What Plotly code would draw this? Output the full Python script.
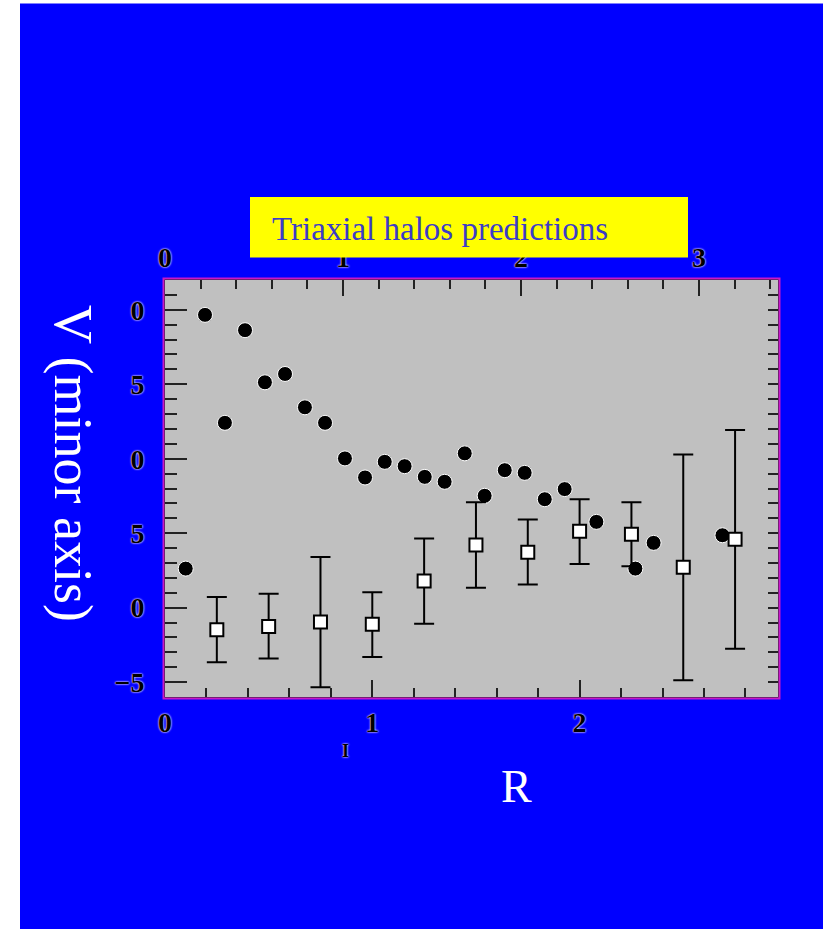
import plotly.graph_objects as go

# ---------------- data ----------------
circle_R = [0.10, 0.193, 0.289, 0.386, 0.482, 0.579, 0.675, 0.772, 0.868, 0.965,
            1.060, 1.156, 1.253, 1.349, 1.446, 1.542, 1.639, 1.735, 1.832, 1.928,
            2.081, 2.269, 2.357, 2.689]
circle_V = [2.62, 19.66, 12.41, 18.63, 15.13, 15.69, 13.45, 12.41, 10.02, 8.74,
            9.79, 9.50, 8.78, 8.45, 10.36, 7.51, 9.23, 9.05, 7.28, 7.96,
            5.76, 2.62, 4.35, 4.86]

square_R = [0.25, 0.50, 0.75, 1.00, 1.25, 1.50, 1.75, 2.00, 2.25, 2.50, 2.75]
square_V = [-1.48, -1.26, -0.97, -1.12, 1.79, 4.21, 3.72, 5.13, 4.93, 2.71, 4.59]
square_hi = [0.71, 0.94, 3.40, 1.03, 4.64, 7.08, 5.92, 7.28, 7.08, 10.29, 11.92]
square_lo = [-3.66, -3.41, -5.34, -3.32, -1.08, 1.34, 1.55, 2.93, 2.78, -4.87, -2.76]

x_tickvals = [0, 1, 2]
x_ticktext = ["0", "1", "2"]
top_tickvals = [0, 1, 2, 3]
top_ticktext = ["0", "1", "2", "3"]
y_tickvals = [20, 15, 10, 5, 0, -5]
y_ticktext = ["0", "5", "0", "5", "0", "\u22125"]

title_text = "Triaxial halos predictions"
ylabel_text = "V (minor axis)"
xlabel_text = "R"

# ---------------- layout geometry (pixels) ----------------
W, H = 823, 929
L, R_, T, B = 165, 45, 280, 232
PW, PH = W - L - R_, H - T - B


def px(x):
    return (x - L) / PW


def py(y):
    return (H - B - y) / PH


tick_font = dict(family="Liberation Serif", size=28, color="black", weight="bold",
                 shadow="0 0 2px white, 0 0 2px #f0c0f0")

plus = [h - v for h, v in zip(square_hi, square_V)]
minus = [v - l for v, l in zip(square_V, square_lo)]

fig = go.Figure()

fig.add_trace(go.Scatter(
    x=circle_R, y=circle_V, mode="markers",
    marker=dict(symbol="circle", size=15, color="black",
                line=dict(color="white", width=1)),
    showlegend=False, cliponaxis=False,
))

fig.add_trace(go.Scatter(
    x=square_R, y=square_V, mode="markers",
    marker=dict(symbol="square", size=13, color="white",
                line=dict(color="black", width=2)),
    error_y=dict(type="data", symmetric=False, array=plus, arrayminus=minus,
                 color="black", thickness=2, width=10),
    showlegend=False, cliponaxis=False,
))

x_max = PW / 207.3
top_max = PW / 178.0

fig.update_layout(
    width=W, height=H,
    margin=dict(l=L, r=R_, t=T, b=B, pad=0),
    paper_bgcolor="white",
    plot_bgcolor="rgba(0,0,0,0)",
    showlegend=False,
    xaxis=dict(range=[0, x_max], showgrid=False, zeroline=False,
               showline=True, linecolor="#222", linewidth=1,
               tickmode="array", tickvals=x_tickvals, ticktext=x_ticktext,
               ticks="inside", ticklen=17, tickwidth=2, tickcolor="#222",
               minor=dict(dtick=0.2, tick0=0, ticks="inside", ticklen=9,
                          tickwidth=2, tickcolor="#222"),
               tickfont=tick_font, ticklabelstandoff=0),
    xaxis2=dict(range=[0, top_max], overlaying="x", side="top",
                showgrid=False, zeroline=False, showline=True,
                linecolor="#222", linewidth=1,
                tickmode="array", tickvals=top_tickvals, ticktext=top_ticktext,
                ticks="inside", ticklen=16, tickwidth=2, tickcolor="#222",
                minor=dict(dtick=0.2, tick0=0, ticks="inside", ticklen=9,
                           tickwidth=2, tickcolor="#222"),
                tickfont=tick_font, ticklabelstandoff=1),
    yaxis=dict(range=[-6, 22], showgrid=False, zeroline=False,
               showline=True, linecolor="#222", linewidth=1,
               tickmode="array", tickvals=y_tickvals, ticktext=y_ticktext,
               ticks="inside", ticklen=22, tickwidth=2, tickcolor="#222",
               minor=dict(dtick=1, tick0=0, ticks="inside", ticklen=12,
                          tickwidth=2, tickcolor="#222"),
               tickfont=tick_font, ticklabelstandoff=14),
    yaxis2=dict(range=[-6, 22], overlaying="y", side="right",
                showgrid=False, zeroline=False, showline=True,
                linecolor="#222", linewidth=1,
                tickmode="array", tickvals=y_tickvals, ticktext=["" for _ in y_tickvals],
                ticks="inside", ticklen=20, tickwidth=2, tickcolor="#222",
                minor=dict(dtick=1, tick0=0, ticks="inside", ticklen=10,
                           tickwidth=2, tickcolor="#222"),
                showticklabels=False),
)

# dummy trace to activate the secondary axes
fig.add_trace(go.Scatter(x=[None], y=[None], xaxis="x2", yaxis="y2",
                         showlegend=False, hoverinfo="skip"))

shapes = [
    # blue slide background
    dict(type="rect", xref="paper", yref="paper", layer="below",
         x0=px(20), x1=px(W + 5), y0=py(H + 5), y1=py(3.5),
         fillcolor="#0000ff", line=dict(width=0)),
    # grey plot area
    dict(type="rect", xref="paper", yref="paper", layer="below",
         x0=0, x1=1, y0=0, y1=1, fillcolor="#c0c0c0", line=dict(width=0)),
    # magenta frame
    dict(type="rect", xref="paper", yref="paper", layer="above",
         x0=px(L - 1.5), x1=px(L + PW + 1.5), y0=py(H - B + 1.5), y1=py(T - 1.5),
         line=dict(color="#c818c8", width=2), fillcolor="rgba(0,0,0,0)"),
    # yellow title box (covers the top of the upper tick labels, as in the original)
    dict(type="rect", xref="paper", yref="paper", layer="above",
         x0=px(250), x1=px(688), y0=py(257.5), y1=py(197),
         fillcolor="#ffff00", line=dict(width=0)),
]
fig.update_layout(shapes=shapes)

annotations = [
    dict(text=title_text, xref="paper", yref="paper", x=px(270), y=py(229),
         xanchor="left", yanchor="middle", showarrow=False,
         font=dict(family="Liberation Serif", size=33, color="#3c3cc8")),
    dict(text=ylabel_text, xref="paper", yref="paper", x=px(73), y=py(463),
         xanchor="center", yanchor="middle", showarrow=False, textangle=90,
         font=dict(family="Liberation Serif", size=54, color="white")),
    dict(text=xlabel_text, xref="paper", yref="paper", x=px(516), y=py(786),
         xanchor="center", yanchor="middle", showarrow=False,
         font=dict(family="Liberation Serif", size=46, color="white")),
    dict(text="I", xref="paper", yref="paper", x=px(345), y=py(751),
         xanchor="center", yanchor="middle", showarrow=False,
         font=dict(family="Liberation Serif", size=18, color="black",
                   weight="bold", shadow="0 0 2px white, 0 0 2px #f0c0f0")),
]
fig.update_layout(annotations=annotations)

fig.write_html("out.html")
